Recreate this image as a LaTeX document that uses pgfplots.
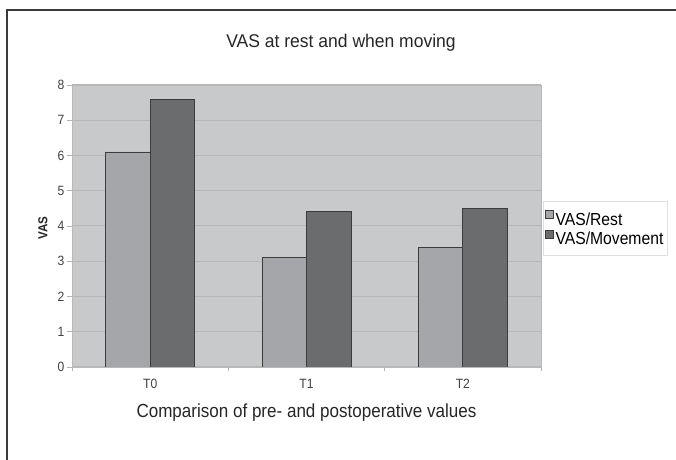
\documentclass[border=0pt]{standalone}
\usepackage{pgfplots}
\pgfplotsset{compat=1.18}
\usepackage{fontspec}
\setmainfont{Liberation Sans}
\newfontfamily\nf[FakeStretch=0.9]{Liberation Sans}
\newfontfamily\nft[FakeStretch=0.95]{Liberation Sans}
\definecolor{bgc}{HTML}{C8C9CB}
\definecolor{gridc}{HTML}{B6B7B9}
\definecolor{restc}{HTML}{A5A6AA}
\definecolor{movc}{HTML}{6B6C6E}
\definecolor{edgec}{HTML}{3C3C3C}
\definecolor{framec}{HTML}{3A3A3A}
\begin{document}
\begin{tikzpicture}[x=1bp,y=1bp]
\useasboundingbox (0,0) rectangle (676,460);
\draw[framec, line width=1.5bp] (7,0) -- (7,450) -- (677,450);
\begin{axis}[
  at={(72bp,93bp)}, anchor=south west,
  scale only axis, width=469bp, height=282bp,
  xmin=-0.5, xmax=2.5, ymin=0, ymax=8,
  ybar=0pt, bar width=44.5bp,
  xtick={0,1,2}, xticklabels={T0,T1,T2},
  minor xtick={-0.5,0.5,1.5,2.5},
  ytick={0,1,...,8},
  tick align=outside, tick pos=left,
  major x tick style={draw=none},
  minor tick length=4bp, major tick length=5bp,
  tick style={color=gray!60, line width=0.6bp},
  ymajorgrids, grid style={gridc, line width=1bp},
  axis background/.style={fill=bgc},
  axis line style={color=gray!55, line width=0.8bp},
  ticklabel style={font=\nf\fontsize{13.5}{15}\selectfont, text=black!75},
  /pgf/number format/assume math mode=true,
  xticklabel style={yshift=-4bp},
  yticklabel style={xshift=1bp},
  legend style={at={(1.0043,0.588)}, anchor=north west, draw=gray!25,
    font=\nf\fontsize{17.5}{19}\selectfont, inner xsep=2bp, inner ysep=9bp,
    row sep=3.5bp, nodes={text height=12.5bp, text depth=0bp, inner sep=1.5bp},
    cells={anchor=west}},
  legend image code/.code={\draw[#1, line width=0.8bp] (0bp,0bp) rectangle (8bp,8bp);},
]
\addplot[fill=restc, draw=edgec, line width=0.8bp] coordinates {(0,6.1) (1,3.1) (2,3.4)};
\addplot[fill=movc, draw=edgec, line width=0.8bp] coordinates {(0,7.6) (1,4.4) (2,4.5)};
\legend{VAS/Rest, VAS/Movement}
\end{axis}
\node[font=\nft\fontsize{18.5}{20}\selectfont, text=black!85] at (341,417) {VAS at rest and when moving};
\node[font=\nf\fontsize{19}{21}\selectfont, text=black!85] at (306.5,47) {Comparison of pre- and postoperative values};
\node[font=\nf\bfseries\fontsize{13}{15}\selectfont, rotate=90, text=black!85] at (43,232) {VAS};
\end{tikzpicture}
\end{document}
